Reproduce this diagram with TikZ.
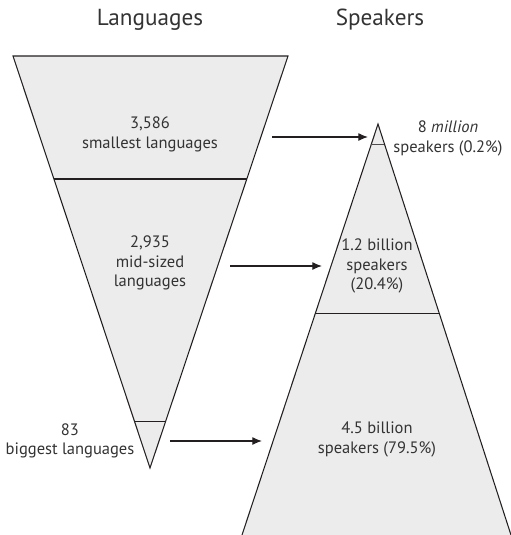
\documentclass[tikz,border=0pt]{standalone}
\usepackage{fontspec}
\setmainfont{PT Sans}
\usetikzlibrary{arrows.meta, positioning, calc}
\definecolor{funnelfill}{HTML}{ECECEC}
\definecolor{inkline}{HTML}{231F20}
\definecolor{inktext}{HTML}{333333}

\begin{document}
\begin{tikzpicture}[
    x=0.02cm, y=-0.02cm,
    funnel/.style={fill=funnelfill, draw=inkline, line width=0.6pt, line join=miter},
    divider/.style={draw=inkline, line width=0.6pt},
    txt/.style={font=\fontsize{9.4}{11}\selectfont, text=inktext, align=center, inner sep=0pt},
    title/.style={font=\fontsize{13.2}{15}\selectfont, text=inktext, inner sep=0pt},
    arrow/.style={-{Latex[length=5.5pt, width=4.5pt]}, draw=inkline, line width=0.6pt}
]
\useasboundingbox (0,0) rectangle (511,535);

% Titles
\node[title] (langtitle) at (150,20) {Languages};
\node[title] (spktitle) at (380,20) {Speakers};

% Languages funnel
\coordinate (ltl) at (13,56);
\coordinate (ltr) at (288,56);
\coordinate (lapex) at (150,468);
\draw[funnel] (ltl) -- (ltr) -- (lapex) -- cycle;
\draw[divider] ($(ltl)!0.2985!(lapex)$) -- ($(ltr)!0.2985!(lapex)$);
\draw[divider] ($(ltl)!0.886!(lapex)$) -- ($(ltr)!0.886!(lapex)$);

% Speakers pyramid
\coordinate (rapex) at (378,124);
\coordinate (rbl) at (242,535);
\coordinate (rbr) at (511,535);
\fill[funnelfill] (rapex) -- (rbl) -- (rbr) -- cycle;
\draw[divider, line join=miter] (rbl) -- (rapex) -- (rbr);
\draw[divider, draw=inkline!80, line width=0.45pt] ($(rapex)!0.0487!(rbl)$) -- ($(rapex)!0.0487!(rbr)$);
\draw[divider] ($(rapex)!0.46!(rbl)$) -- ($(rapex)!0.46!(rbr)$);

% Labels
\node[txt] (smallest) at (150,134.5) {3,586\\smallest languages};
\node[txt] (midsized) at (150,263) {2,935\\mid-sized\\languages};
\node[txt] (biggest) at (70,441) {83\\biggest languages};
\node[txt] (million) at (448,138.5) {8 \textit{million}\\speakers (0.2\%)};
\node[txt] (billionA) at (377,266) {1.2 billion\\speakers\\(20.4\%)};
\node[txt] (billionB) at (377,439.5) {4.5 billion\\speakers (79.5\%)};

% Arrows
\coordinate (smallfrom) at (272,137);
\coordinate (smallto) at (368,137);
\coordinate (midfrom) at (230,266);
\coordinate (midto) at (322,266);
\coordinate (bigfrom) at (170,441);
\coordinate (bigto) at (262,441);
\draw[arrow] (smallfrom) -- (smallto);
\draw[arrow] (midfrom) -- (midto);
\draw[arrow] (bigfrom) -- (bigto);

\end{tikzpicture}
\end{document}
